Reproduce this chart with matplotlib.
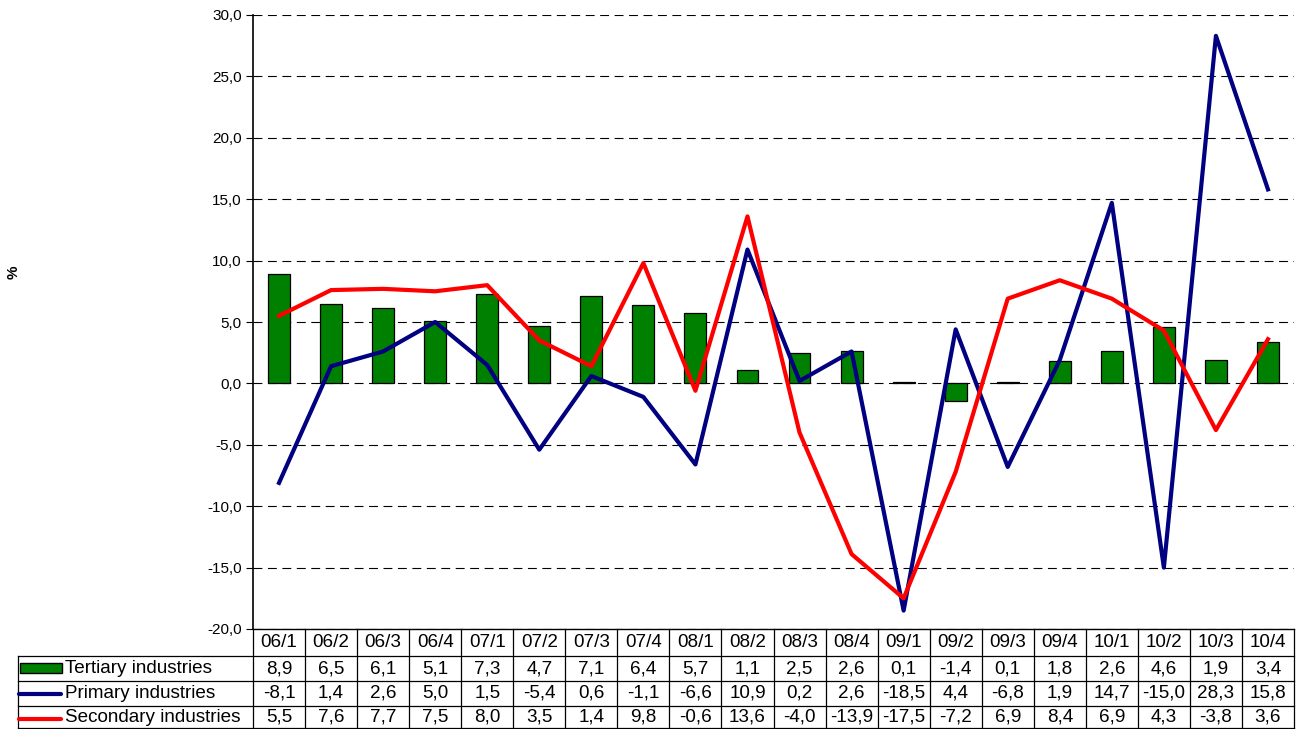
import matplotlib
matplotlib.use("Agg")
import matplotlib.pyplot as plt
import numpy as np
from matplotlib.lines import Line2D
from matplotlib.patches import Rectangle

plt.rcParams["font.family"] = ["Liberation Sans", "DejaVu Sans"]

quarters = ["06/1", "06/2", "06/3", "06/4", "07/1", "07/2", "07/3", "07/4",
            "08/1", "08/2", "08/3", "08/4", "09/1", "09/2", "09/3", "09/4",
            "10/1", "10/2", "10/3", "10/4"]
tertiary = [8.9, 6.5, 6.1, 5.1, 7.3, 4.7, 7.1, 6.4, 5.7, 1.1,
            2.5, 2.6, 0.1, -1.4, 0.1, 1.8, 2.6, 4.6, 1.9, 3.4]
primary = [-8.1, 1.4, 2.6, 5.0, 1.5, -5.4, 0.6, -1.1, -6.6, 10.9,
           0.2, 2.6, -18.5, 4.4, -6.8, 1.9, 14.7, -15.0, 28.3, 15.8]
secondary = [5.5, 7.6, 7.7, 7.5, 8.0, 3.5, 1.4, 9.8, -0.6, 13.6,
             -4.0, -13.9, -17.5, -7.2, 6.9, 8.4, 6.9, 4.3, -3.8, 3.6]
series_names = ["Tertiary industries", "Primary industries", "Secondary industries"]
y_ticks = [-20, -15, -10, -5, 0, 5, 10, 15, 20, 25, 30]

GREEN, NAVY, RED = "#008000", "#000080", "#ff0000"


def fmt(v):
    return f"{v:.1f}".replace(".", ",")


W, H = 1303, 729
fig = plt.figure(figsize=(W / 100, H / 100), dpi=100)
left, right, top, bottom = 253, 1294, 15, 629
ax = fig.add_axes([left / W, 1 - bottom / H, (right - left) / W, (bottom - top) / H])

x = np.arange(len(quarters))
ax.bar(x, tertiary, width=0.42, color=GREEN, edgecolor="black", lw=0.9, zorder=2)
ax.plot(x, primary, color=NAVY, lw=3.0, zorder=3)
ax.plot(x, secondary, color=RED, lw=3.0, zorder=4)

ax.set_xlim(-0.5, len(quarters) - 0.5)
ax.set_ylim(-20, 30)
ax.set_yticks(y_ticks)
ax.set_yticklabels([fmt(v) for v in y_ticks])
ax.set_xticks([])
ax.tick_params(axis="y", length=5, width=0.8, labelsize=11, pad=3)
ax.yaxis.grid(True, ls=(0, (8, 5)), color="black", lw=0.8)
ax.set_axisbelow(True)
for s in ("top", "right"):
    ax.spines[s].set_visible(False)
ax.spines["left"].set_linewidth(1.2)
ax.spines["bottom"].set_linewidth(1.0)

fig.text(14 / W, 1 - 272 / H, "%", rotation=90, fontweight="bold",
         fontsize=11, ha="center", va="center")

# data table below the plot
trans = ax.get_xaxis_transform()
px_h = bottom - top
px_w = (right - left) / len(quarters)


def yf(py):
    return (bottom - py) / px_h


def xd(px):
    return (px - left) / px_w - 0.5


row_edges = [629, 656, 681, 706, 728]
x0 = -0.5
x1 = len(quarters) - 0.5
xl = xd(18)
kw = dict(transform=trans, color="black", lw=0.9, clip_on=False)
for k in range(len(quarters) + 1):
    ax.add_line(Line2D([x0 + k, x0 + k], [yf(629), yf(728)], **kw))
for py in row_edges[1:]:
    ax.add_line(Line2D([xl, x1], [yf(py), yf(py)], **kw))
ax.add_line(Line2D([xl, xl], [yf(656), yf(728)], **kw))

fs = 13.6
mid = lambda i: yf((row_edges[i] + row_edges[i + 1]) / 2)
for i, q in enumerate(quarters):
    ax.text(i, mid(0), q, transform=trans, ha="center", va="center", fontsize=fs)
for r, vals in enumerate([tertiary, primary, secondary]):
    for i, v in enumerate(vals):
        ax.text(i, mid(r + 1), fmt(v), transform=trans, ha="center",
                va="center", fontsize=fs)
    ax.text(xd(65), mid(r + 1), series_names[r], transform=trans, ha="left",
            va="center", fontsize=fs)

# legend keys inside the row label cells
ax.add_patch(Rectangle((xd(20), yf(673)), xd(62) - xd(20), yf(663) - yf(673),
                       transform=trans, facecolor=GREEN, edgecolor="black",
                       lw=1.0, clip_on=False))
for py, c in [(694, NAVY), (719, RED)]:
    ax.add_line(Line2D([xd(19), xd(61)], [yf(py), yf(py)], transform=trans,
                       color=c, lw=3.0, solid_capstyle="round", clip_on=False))

fig.savefig("out.png", dpi=100)
